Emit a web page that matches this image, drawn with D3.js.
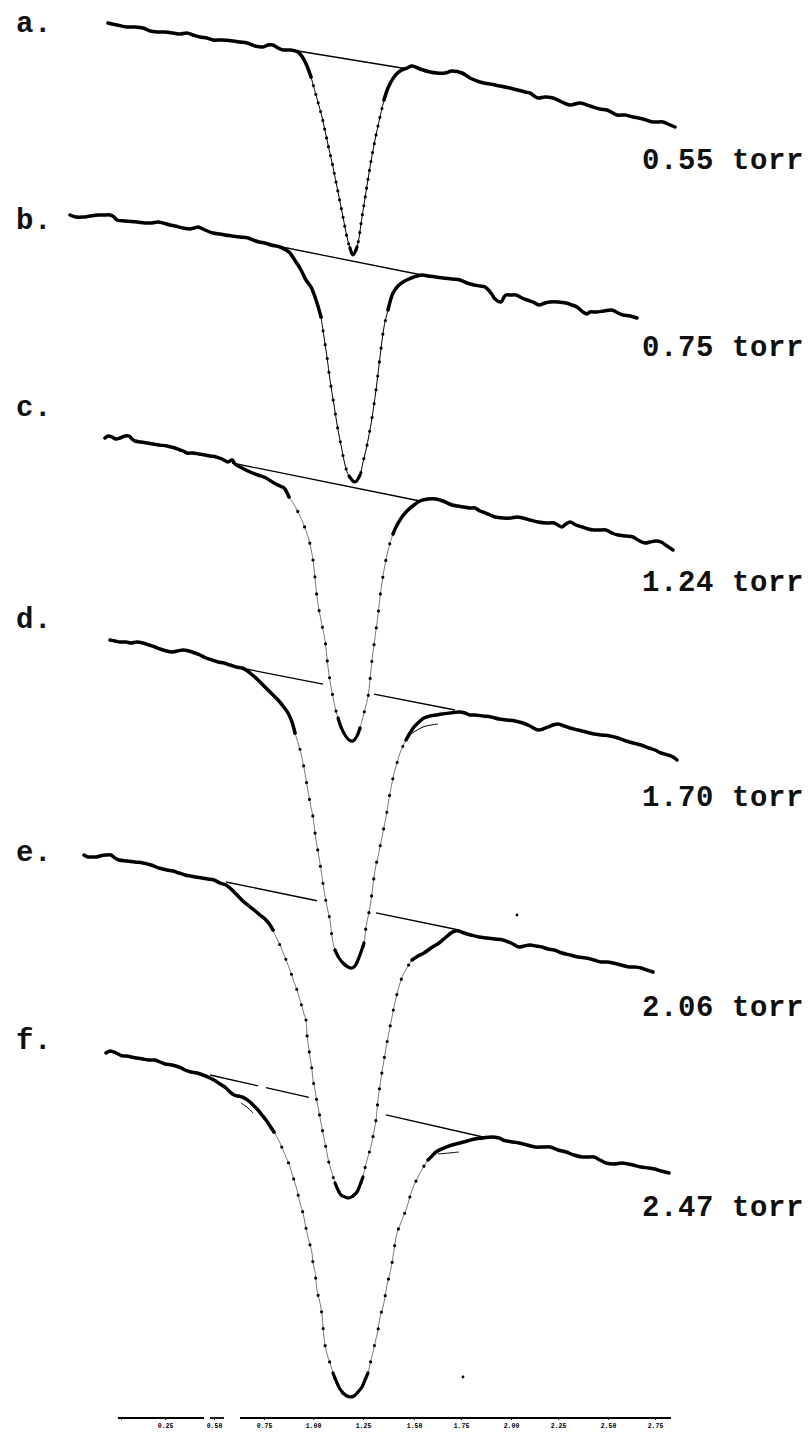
<!DOCTYPE html>
<html>
<head>
<meta charset="utf-8">
<script src="https://cdn.jsdelivr.net/npm/d3@7/dist/d3.min.js"></script>
<style>
  html, body { margin: 0; padding: 0; background: #fff; }
  svg { display: block; }
  .lbl { font-family: "Liberation Mono", "DejaVu Sans Mono", monospace; fill: #111; font-weight: bold; }
</style>
</head>
<body>
<svg id="chart" width="811" height="1438"></svg>
<script>
// ---------------------------------------------------------------
// Absorption line recordings at six cell pressures.
// x: frequency offset from line centre (MHz)
// y: detector signal (arb. units), relative to each trace's start level
// ---------------------------------------------------------------
const panelLetters = ["a.", "b.", "c.", "d.", "e.", "f."];
const pressures    = ["0.55 torr", "0.75 torr", "1.24 torr", "1.70 torr", "2.06 torr", "2.47 torr"];
// starting level of each recording in the stack (signal units, downward)
const traceOffsets = [23, 215, 438, 640, 855, 1053];

// --- a. 0.55 torr
const a_left = [[-484,0],[-466,-2],[-446,-4],[-430,-4],[-414,-5],[-400,-8],[-386,-9],[-370,-9],[-354,-10],[-340,-11],[-326,-10],[-314,-12],[-300,-14],[-286,-15],[-274,-17],[-256,-17],[-234,-18],[-220,-19],[-206,-20],[-190,-23],[-174,-24],[-164,-22],[-154,-22],[-144,-25],[-134,-27],[-120,-27],[-104,-29],[-94,-35],[-86,-43],[-78,-54]];
const a_dip = [[-78,-54],[-68,-72],[-56,-94],[-46,-117],[-34,-144],[-24,-169],[-14,-194],[-6,-214],[0,-225],[6,-232],[14,-224],[24,-194],[32,-169],[40,-144],[50,-117],[60,-94],[68,-77]];
const a_right = [[68,-77],[76,-65],[88,-54],[100,-48],[114,-45],[124,-43],[140,-46],[160,-49],[174,-50],[190,-50],[204,-48],[224,-50],[240,-55],[260,-59],[290,-62],[320,-65],[350,-69],[360,-70],[376,-75],[390,-74],[406,-75],[424,-79],[440,-82],[460,-80],[480,-83],[500,-86],[514,-87],[534,-92],[550,-92],[566,-94],[586,-96],[606,-99],[626,-99],[636,-101],[650,-104]];
const a_base = [[-104,-28],[116,-46]];

// --- b. 0.75 torr
const b_left = [[-560,0],[-548,-2],[-534,-2],[-520,-1],[-504,0],[-492,0],[-480,0],[-472,-2],[-466,-5],[-450,-6],[-426,-7],[-410,-8],[-396,-8],[-384,-7],[-374,-8],[-360,-10],[-350,-11],[-334,-13],[-320,-14],[-312,-13],[-304,-12],[-290,-15],[-274,-18],[-260,-19],[-250,-20],[-236,-21],[-220,-22],[-204,-23],[-194,-25],[-182,-27],[-170,-28],[-158,-30],[-140,-32],[-128,-35],[-120,-38],[-108,-47],[-98,-55],[-88,-65],[-78,-72],[-66,-88],[-58,-102]];
const b_dip = [[-58,-102],[-52,-122],[-46,-142],[-40,-165],[-32,-190],[-24,-215],[-16,-235],[-10,-250],[-2,-261],[10,-267],[20,-260],[26,-247],[32,-235],[38,-220],[44,-203],[52,-175],[60,-142],[68,-112],[76,-95]];
const b_right = [[76,-95],[86,-78],[96,-71],[106,-67],[118,-64],[128,-62],[144,-60],[156,-61],[172,-62],[186,-63],[204,-64],[220,-65],[234,-68],[248,-70],[260,-71],[270,-72],[282,-78],[290,-84],[302,-87],[308,-82],[312,-80],[322,-80],[332,-80],[344,-83],[354,-85],[366,-87],[378,-90],[390,-88],[400,-87],[416,-87],[432,-88],[444,-90],[454,-92],[466,-97],[474,-99],[480,-97],[492,-97],[508,-96],[524,-95],[536,-98],[546,-100],[560,-101],[574,-103]];
const b_base = [[-136,-32],[144,-60]];

// --- c. 1.24 torr
const c_left = [[-490,0],[-484,2],[-476,1],[-468,-1],[-460,0],[-450,2],[-442,2],[-436,-1],[-430,-3],[-418,-4],[-406,-5],[-394,-6],[-382,-7],[-366,-8],[-350,-10],[-340,-12],[-334,-13],[-326,-15],[-314,-15],[-302,-16],[-290,-17],[-280,-18],[-268,-19],[-256,-21],[-244,-24],[-236,-22],[-230,-26],[-216,-30],[-200,-34],[-184,-37],[-168,-40],[-152,-45],[-140,-48],[-132,-50],[-122,-59]];
const c_dip = [[-122,-59],[-114,-65],[-106,-72],[-94,-85],[-82,-102],[-74,-122],[-70,-140],[-66,-159],[-62,-172],[-58,-182],[-54,-192],[-50,-202],[-44,-229],[-38,-249],[-34,-259],[-30,-269],[-24,-280],[-18,-289],[-10,-297],[-2,-302],[6,-303],[14,-298],[20,-290],[28,-275],[36,-259],[40,-242],[44,-222],[48,-207],[52,-192],[56,-177],[60,-159],[64,-145],[68,-132],[74,-117],[80,-105],[86,-96]];
const c_right = [[86,-96],[92,-89],[104,-79],[116,-72],[128,-67],[140,-63],[156,-61],[172,-61],[186,-63],[204,-67],[216,-68],[226,-69],[240,-70],[250,-70],[260,-73],[266,-74],[280,-77],[290,-79],[306,-80],[322,-80],[334,-79],[346,-80],[360,-82],[376,-84],[392,-85],[408,-85],[416,-87],[424,-89],[432,-86],[440,-84],[452,-87],[464,-89],[476,-91],[488,-92],[500,-92],[512,-92],[524,-95],[536,-97],[552,-98],[566,-99],[576,-102],[590,-105],[600,-104],[612,-103],[622,-104],[634,-108],[646,-112]];
const c_base = [[-236,-25],[140,-63]];

// --- d. 1.70 torr
const d_left = [[-480,0],[-470,-1],[-460,-2],[-448,-2],[-438,-3],[-426,-2],[-414,-3],[-402,-5],[-390,-7],[-380,-9],[-374,-10],[-366,-11],[-358,-12],[-346,-11],[-334,-10],[-322,-11],[-310,-13],[-300,-15],[-288,-18],[-276,-20],[-264,-22],[-252,-23],[-240,-25],[-228,-27],[-216,-28],[-208,-30],[-200,-33],[-184,-40],[-168,-48],[-156,-54],[-144,-60],[-134,-66],[-124,-73],[-116,-82],[-110,-93]];
const d_dip = [[-110,-93],[-104,-103],[-98,-113],[-94,-123],[-90,-133],[-86,-145],[-82,-157],[-78,-167],[-74,-177],[-68,-200],[-62,-217],[-58,-230],[-52,-250],[-46,-267],[-40,-280],[-36,-297],[-30,-310],[-22,-318],[-14,-323],[-4,-327],[4,-328],[10,-326],[16,-320],[22,-312],[28,-303],[32,-287],[36,-277],[40,-267],[44,-253],[48,-237],[52,-225],[56,-217],[60,-207],[64,-197],[68,-187],[72,-177],[76,-165],[80,-153],[84,-143],[88,-133],[94,-123],[100,-113],[106,-106],[112,-100]];
const d_right = [[112,-100],[120,-93],[128,-87],[138,-82],[148,-78],[160,-76],[172,-75],[184,-74],[200,-73],[218,-72],[230,-73],[240,-75],[250,-75],[266,-76],[282,-77],[298,-79],[314,-80],[330,-81],[346,-83],[360,-86],[376,-90],[386,-89],[396,-87],[406,-85],[416,-84],[428,-86],[440,-88],[456,-90],[472,-92],[488,-94],[504,-95],[520,-96],[536,-98],[552,-101],[566,-103],[582,-105],[598,-108],[610,-110],[622,-113],[636,-115],[646,-117],[654,-120]];
const d_base = [[-208,-29],[210,-70]];

// --- e. 2.06 torr
const e_left = [[-532,0],[-524,-2],[-516,-2],[-508,-2],[-500,-1],[-488,0],[-478,0],[-470,-3],[-462,-5],[-446,-6],[-430,-7],[-414,-8],[-398,-10],[-382,-13],[-366,-15],[-354,-16],[-342,-18],[-330,-20],[-320,-21],[-308,-22],[-296,-23],[-284,-24],[-272,-25],[-260,-28],[-248,-30],[-240,-33],[-232,-37],[-222,-42],[-212,-47],[-202,-51],[-192,-55],[-180,-60],[-168,-65],[-160,-70],[-154,-75]];
const e_dip = [[-154,-75],[-148,-82],[-142,-88],[-136,-95],[-130,-102],[-124,-110],[-118,-118],[-112,-127],[-106,-135],[-100,-145],[-96,-152],[-92,-159],[-88,-165],[-86,-180],[-82,-195],[-80,-202],[-76,-215],[-74,-225],[-70,-235],[-66,-247],[-62,-257],[-58,-268],[-54,-278],[-50,-288],[-46,-298],[-42,-308],[-36,-318],[-30,-328],[-24,-335],[-18,-340],[-10,-342],[-2,-343],[6,-341],[14,-337],[20,-330],[26,-322],[30,-313],[34,-305],[40,-295],[44,-287],[48,-276],[52,-265],[54,-255],[56,-245],[60,-230],[64,-217],[68,-205],[72,-193],[76,-182],[80,-172],[84,-162],[88,-152],[92,-143],[96,-135],[102,-125],[108,-118],[116,-111],[124,-105]];
const e_right = [[124,-105],[136,-101],[148,-98],[162,-93],[178,-88],[190,-83],[202,-78],[210,-76],[218,-76],[228,-78],[242,-80],[258,-82],[274,-83],[290,-84],[306,-85],[322,-88],[338,-92],[348,-91],[360,-90],[372,-91],[384,-92],[396,-94],[408,-95],[424,-98],[440,-100],[456,-102],[472,-103],[488,-105],[502,-107],[514,-107],[526,-108],[542,-110],[558,-112],[570,-112],[582,-113],[594,-115],[606,-117]];
const e_base = [[-248,-27],[218,-75]];

// --- f. 2.47 torr
const f_left = [[-488,0],[-480,2],[-468,0],[-460,-2],[-454,-3],[-446,-3],[-438,-4],[-426,-5],[-414,-6],[-402,-7],[-390,-7],[-380,-9],[-370,-11],[-356,-12],[-342,-14],[-330,-17],[-318,-19],[-306,-20],[-294,-22],[-280,-25],[-272,-27],[-260,-31],[-248,-35],[-240,-39],[-232,-42],[-224,-43],[-216,-44],[-208,-46],[-200,-49],[-192,-53],[-184,-57],[-176,-62],[-168,-67],[-160,-73],[-152,-79]];
const f_dip = [[-152,-79],[-146,-84],[-140,-90],[-134,-97],[-128,-104],[-122,-111],[-118,-117],[-112,-127],[-106,-137],[-100,-150],[-94,-160],[-90,-170],[-84,-184],[-80,-192],[-76,-200],[-74,-210],[-70,-219],[-66,-237],[-60,-250],[-56,-262],[-54,-274],[-50,-292],[-46,-301],[-40,-310],[-34,-320],[-26,-330],[-20,-336],[-14,-340],[-6,-343],[0,-344],[8,-343],[16,-339],[24,-334],[30,-327],[36,-320],[42,-307],[46,-299],[50,-290],[56,-277],[60,-264],[66,-254],[70,-244],[74,-232],[78,-224],[84,-210],[88,-197],[94,-180],[100,-172],[106,-164],[112,-157],[118,-147],[124,-137],[132,-128],[140,-120],[148,-113],[156,-107]];
const f_right = [[156,-107],[164,-103],[172,-99],[188,-95],[204,-92],[220,-90],[234,-88],[250,-86],[266,-85],[282,-84],[298,-85],[306,-87],[314,-88],[326,-89],[338,-90],[354,-92],[370,-94],[386,-94],[400,-94],[416,-97],[432,-99],[448,-102],[464,-104],[476,-104],[488,-104],[500,-107],[512,-110],[528,-111],[544,-110],[556,-111],[566,-112],[582,-114],[598,-115],[610,-116],[622,-118],[638,-120]];
const f_base = [[-280,-22],[266,-84]];

// interruptions in the drawn baselines (MHz ranges)
const baseGaps = [[], [], [], [[-54, 48]], [[-66, 52]], [[-184, -168], [-82, 72]]];

// short pieces of the fitted profile where it parts from the recording
const fitStubs = [
  [3, [[116,-96],[146,-87],[176,-84]]],
  [5, [[-218,-50],[-204,-55],[-194,-60]]],
  [5, [[176,-101],[198,-100],[218,-99]]]
];

// stray specks on the chart paper: [trace index, MHz, signal]
const specks = [[4, 334, -60], [5, 226, -324]];

// frequency scale along the bottom
const axisTickValues = [-458, -370, -272, -172, -74, 26, 128, 222, 322, 416, 516, 610];
const axisTickLabels = ["", "0.25", "0.50", "0.75", "1.00", "1.25", "1.50", "1.75", "2.00", "2.25", "2.50", "2.75"];
const axisRuns = [[-464, -292], [-280, -252], [-220, 642]];

// ---------------------------------------------------------------
const traces = [
  { left: a_left, dip: a_dip, right: a_right, base: a_base },
  { left: b_left, dip: b_dip, right: b_right, base: b_base },
  { left: c_left, dip: c_dip, right: c_right, base: c_base },
  { left: d_left, dip: d_dip, right: d_right, base: d_base },
  { left: e_left, dip: e_dip, right: e_right, base: e_base },
  { left: f_left, dip: f_dip, right: f_right, base: f_base }
].map((t, i) => ({ ...t, offset: traceOffsets[i], letter: panelLetters[i], pressure: pressures[i], gaps: baseGaps[i] }));

const W = 811, H = 1438;
const x = d3.scaleLinear().domain([-700, 922]).range([0, W]);
const y = d3.scaleLinear().domain([0, -H]).range([0, H]);

// layout
const dotSpacing = [9, 14, 17, 17, 16, 17];
const bottomBand = [9, 9, 26, 26, 22, 30];
const pressureDrop = [146, 141, 153, 166, 161, 163];
const letterDrop = [9, 14, -22, -12, 6, -4];
const axisLevel = -1418;

const svg = d3.select("#chart");
svg.append("rect").attr("width", W).attr("height", H).attr("fill", "#fff");

const g = svg.append("g");

traces.forEach((t, i) => {
  const line = d3.line()
    .x(d => x(d[0]))
    .y(d => y(d[1] - t.offset))
    .curve(d3.curveCatmullRom.alpha(0.5));
  const straight = d3.line().x(d => x(d[0])).y(d => y(d[1] - t.offset));
  const gt = g.append("g");

  // straight baseline drawn under the line, split where it is interrupted
  const [p0, p1] = t.base;
  const baseAt = nu => p0[1] + (p1[1] - p0[1]) * (nu - p0[0]) / (p1[0] - p0[0]);
  const cuts = [p0[0]];
  t.gaps.forEach(gp => { cuts.push(gp[0], gp[1]); });
  cuts.push(p1[0]);
  for (let k = 0; k < cuts.length; k += 2) {
    const segL = [[cuts[k], baseAt(cuts[k])], [cuts[k + 1], baseAt(cuts[k + 1])]];
    gt.append("path").attr("d", straight(segL))
      .attr("fill", "none").attr("stroke", "#000").attr("stroke-width", 1.3);
  }

  // fitted line through the absorption: thin line with point markers
  gt.append("path").attr("d", line(t.dip))
    .attr("fill", "none").attr("stroke", "#000").attr("stroke-width", i < 2 ? 1.0 : 0.7)
    .attr("stroke-opacity", i < 2 ? 1 : 0.75);
  gt.append("path").attr("d", line(t.dip))
    .attr("fill", "none").attr("stroke", "#000").attr("stroke-width", 3.2)
    .attr("stroke-linecap", "round")
    .attr("stroke-dasharray", `0 ${dotSpacing[i]}`);

  // line core drawn solid
  const minS = d3.min(t.dip, d => d[1]);
  const core = t.dip.filter(d => d[1] <= minS + bottomBand[i]);
  gt.append("path").attr("d", line(core))
    .attr("fill", "none").attr("stroke", "#000").attr("stroke-width", 3.2)
    .attr("stroke-linecap", "round").attr("stroke-linejoin", "round");

  // recorded wings (thick pen trace)
  [t.left, t.right].forEach(seg => {
    gt.append("path").attr("d", line(seg))
      .attr("fill", "none").attr("stroke", "#000").attr("stroke-width", 3.5)
      .attr("stroke-linecap", "round").attr("stroke-linejoin", "round");
  });

  // panel letter and pressure
  g.append("text").attr("class", "lbl")
    .attr("x", 16).attr("y", y(-t.offset - letterDrop[i]))
    .attr("font-size", 29).attr("letter-spacing", 0.6)
    .text(t.letter);
  g.append("text").attr("class", "lbl")
    .attr("x", x(584)).attr("y", y(-t.offset - pressureDrop[i]))
    .attr("font-size", 29).attr("letter-spacing", 0.6)
    .text(t.pressure);
});

// thin pieces of the fitted profile near the shoulders
fitStubs.forEach(([ti, pts]) => {
  const off = traceOffsets[ti];
  g.append("path")
    .attr("d", d3.line().x(d => x(d[0])).y(d => y(d[1] - off)).curve(d3.curveCatmullRom)(pts))
    .attr("fill", "none").attr("stroke", "#000").attr("stroke-width", 1.0);
});

// specks
g.selectAll("circle.speck").data(specks).enter().append("circle")
  .attr("class", "speck")
  .attr("cx", d => x(d[1]))
  .attr("cy", d => y(d[2] - traceOffsets[d[0]]))
  .attr("r", 1.4).attr("fill", "#000");

// frequency scale
const ax = svg.append("g");
axisRuns.forEach(r => {
  ax.append("line")
    .attr("x1", x(r[0])).attr("x2", x(r[1]))
    .attr("y1", y(axisLevel)).attr("y2", y(axisLevel))
    .attr("stroke", "#000").attr("stroke-width", 1.8);
});
const axis = d3.axisBottom(x).tickValues(axisTickValues)
  .tickFormat((d, k) => axisTickLabels[k]).tickSize(2).tickPadding(3);
const axG = ax.append("g").attr("transform", `translate(0,${y(axisLevel)})`).call(axis);
axG.select(".domain").remove();
axG.selectAll(".tick line").attr("stroke", "#222");
axG.selectAll(".tick text").attr("font-size", 6.5).attr("font-family", "Liberation Mono, monospace")
  .attr("fill", "#000").attr("font-weight", "bold");
</script>
</body>
</html>
